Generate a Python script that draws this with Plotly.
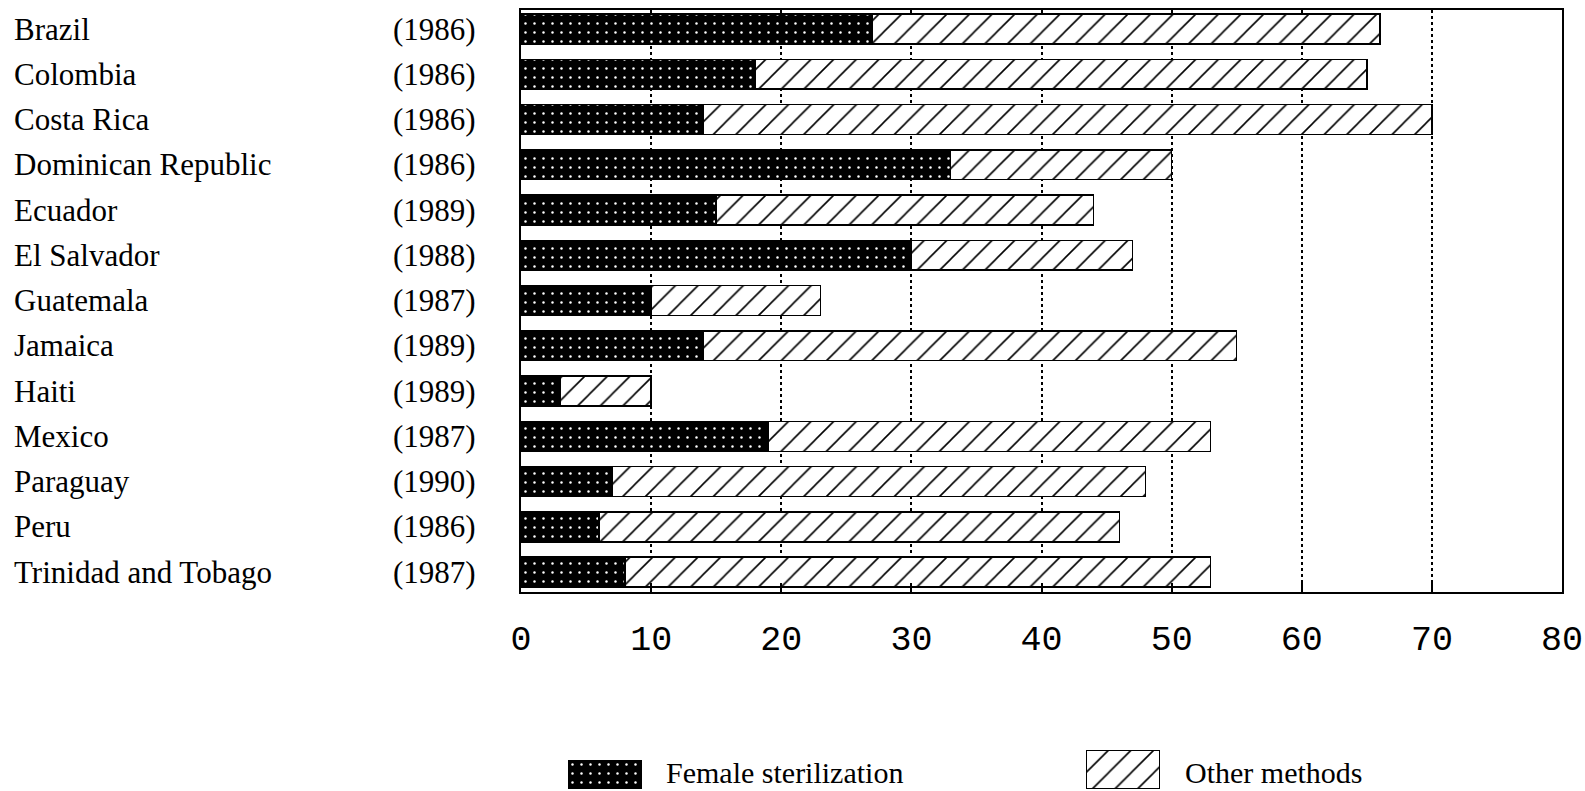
import plotly.graph_objects as go

countries = ["Brazil", "Colombia", "Costa Rica", "Dominican Republic", "Ecuador",
             "El Salvador", "Guatemala", "Jamaica", "Haiti", "Mexico", "Paraguay",
             "Peru", "Trinidad and Tobago"]
years = ["(1986)", "(1986)", "(1986)", "(1986)", "(1989)", "(1988)", "(1987)",
         "(1989)", "(1989)", "(1987)", "(1990)", "(1986)", "(1987)"]
female_sterilization = [27, 18, 14, 33, 15, 30, 10, 14, 3, 19, 7, 6, 8]
total_use = [66, 65, 70, 50, 44, 47, 23, 55, 10, 53, 48, 46, 53]
other_methods = [t - s for t, s in zip(total_use, female_sterilization)]
x_ticks = [0, 10, 20, 30, 40, 50, 60, 70, 80]
legend_labels = ["Female sterilization", "Other methods"]

W, H = 1585, 791
def fx(px):
    return px / W
def fy(py):
    return 1 - py / H

steril_pattern = dict(shape=".", bgcolor="black", fgcolor="white", size=9,
                      solidity=0.06, fillmode="replace")
hatch_pattern = dict(shape="/", bgcolor="white", fgcolor="black", size=16,
                     solidity=0.1, fillmode="replace")
bar_line = dict(color="black", width=1.5)

fig = go.Figure()
fig.add_trace(go.Bar(
    y=countries, x=female_sterilization, orientation="h", width=0.66,
    marker=dict(color="black", pattern=steril_pattern, line=bar_line),
    name=legend_labels[0], showlegend=False))
fig.add_trace(go.Bar(
    y=countries, x=other_methods, orientation="h", width=0.66,
    marker=dict(color="white", pattern=hatch_pattern, line=bar_line),
    name=legend_labels[1], showlegend=False))

# legend swatches (drawn as bars on tiny helper axes)
fig.add_trace(go.Bar(x=[1], y=[0], orientation="h", width=1, xaxis="x2", yaxis="y2",
                     marker=dict(color="black", pattern=steril_pattern, line=bar_line),
                     cliponaxis=False, showlegend=False, hoverinfo="skip"))
fig.add_trace(go.Bar(x=[1], y=[0], orientation="h", width=1, xaxis="x3", yaxis="y3",
                     marker=dict(color="white", pattern=hatch_pattern, line=bar_line),
                     cliponaxis=False, showlegend=False, hoverinfo="skip"))

font_serif = dict(family="Liberation Serif", size=31, color="black")
annotations = []
for c, yr in zip(countries, years):
    annotations.append(dict(x=fx(12), y=c, xref="paper", yref="y", text=c,
                            xanchor="left", yanchor="middle", showarrow=False,
                            font=font_serif))
    annotations.append(dict(x=fx(478), y=c, xref="paper", yref="y", text=yr,
                            xanchor="right", yanchor="middle", showarrow=False,
                            font=font_serif))
annotations.append(dict(x=fx(664), y=fy(772), xref="paper", yref="paper", text=legend_labels[0],
                        xanchor="left", yanchor="middle", showarrow=False,
                        font=dict(family="Liberation Serif", size=30, color="black")))
annotations.append(dict(x=fx(1183), y=fy(772), xref="paper", yref="paper", text=legend_labels[1],
                        xanchor="left", yanchor="middle", showarrow=False,
                        font=dict(family="Liberation Serif", size=30, color="black")))

hidden = dict(visible=False, showgrid=False, zeroline=False, fixedrange=True)

fig.update_layout(
    width=W, height=H,
    margin=dict(l=0, r=0, t=0, b=0, autoexpand=False),
    paper_bgcolor="white", plot_bgcolor="white",
    barmode="stack",
    showlegend=False,
    annotations=annotations,
    xaxis=dict(domain=[fx(521), fx(1562)], range=[0, 80], tickvals=x_ticks,
               ticktext=[str(v) for v in x_ticks], automargin=False,
               showgrid=True, gridcolor="black", griddash="dot", gridwidth=1.5,
               zeroline=False, showline=True, linecolor="black", linewidth=2, mirror=True,
               ticks="inside", ticklen=9, tickwidth=1.5, tickcolor="black",
               ticklabelstandoff=14,
               tickfont=dict(family="Liberation Mono", size=35, color="black")),
    yaxis=dict(domain=[fy(592), fy(10)], range=[12.44, -0.42], type="category",
               categoryorder="array", categoryarray=countries, automargin=False,
               showticklabels=False, ticks="", showgrid=False, zeroline=False,
               showline=True, linecolor="black", linewidth=2, mirror=True),
    xaxis2=dict(domain=[fx(568), fx(642)], range=[0, 1], anchor="y2", **hidden),
    yaxis2=dict(domain=[fy(789), fy(760)], range=[-0.5, 0.5], anchor="x2", **hidden),
    xaxis3=dict(domain=[fx(1086), fx(1160)], range=[0, 1], anchor="y3", **hidden),
    yaxis3=dict(domain=[fy(789), fy(750)], range=[-0.5, 0.5], anchor="x3", **hidden),
)

fig.write_html("out.html",
               config={"displayModeBar": False},
               post_script="document.body.style.margin='0px';"
                           "document.body.style.overflow='hidden';")
